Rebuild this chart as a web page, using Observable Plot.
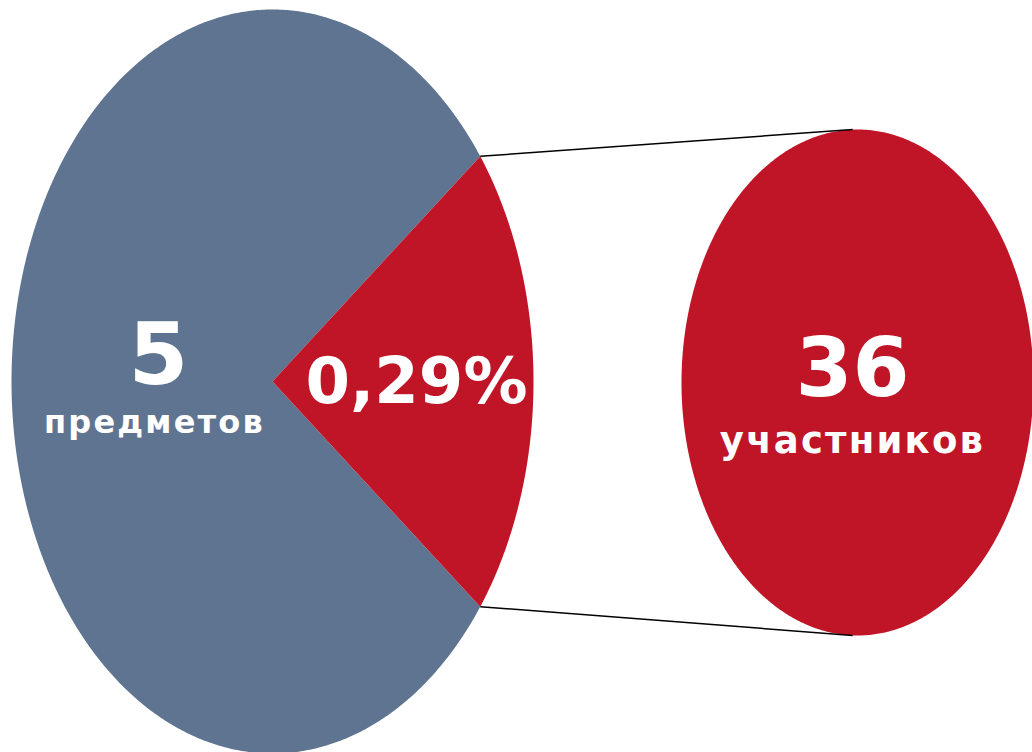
<!DOCTYPE html>
<html>
<head>
<meta charset="utf-8">
<script src="https://cdn.jsdelivr.net/npm/d3@7"></script>
<script src="https://cdn.jsdelivr.net/npm/@observablehq/plot@0.6"></script>
<style>
  html, body { margin: 0; padding: 0; background: #ffffff; }
  #chart svg { display: block; }
</style>
</head>
<body>
<div id="chart"></div>
<script>
// ---- data ----
const sliceNames = ["предметы", "выбранные"];
const sliceShares = [0.793, 0.207];          // angular share of the main pie as drawn
const mainValue = "5";
const mainUnit = "предметов";
const shareLabel = "0,29%";
const detailValue = "36";
const detailUnit = "участников";

// ---- layout (scale units) ----
const W = 1032, H = 752;
const mainPie = {cx: 272, cy: 381, rx: 261, ry: 372};
const detailPie = {cx: 857, cy: 382, rx: 176, ry: 253};
const BLUE = "#5f7491", RED = "#c01526";

const toRad = d => d * Math.PI / 180;
function ellPoint(e, deg) {
  return {x: e.cx + e.rx * Math.cos(toRad(deg)), y: e.cy - e.ry * Math.sin(toRad(deg))};
}
function sector(e, a0, a1, withCenter) {
  const pts = [];
  if (withCenter) pts.push({x: e.cx, y: e.cy});
  const n = Math.max(2, Math.ceil(Math.abs(a1 - a0) * 2));
  for (let i = 0; i <= n; i++) pts.push(ellPoint(e, a0 + (a1 - a0) * i / n));
  if (withCenter) pts.push({x: e.cx, y: e.cy});
  return pts;
}

const half = sliceShares[1] * 360 / 2;       // red wedge centered on the right
const bluePts = sector(mainPie, half, 360 - half, true);
const redPts = sector(mainPie, -half, half, true);
const detailPts = sector(detailPie, 0, 360, false);

const wedgeTop = ellPoint(mainPie, half);
const wedgeBot = ellPoint(mainPie, -half);
const detTop = ellPoint(detailPie, 91.6);
const detBot = ellPoint(detailPie, 268.4);
const connectors = [
  {x1: wedgeTop.x, y1: wedgeTop.y, x2: detTop.x, y2: detTop.y},
  {x1: wedgeBot.x, y1: wedgeBot.y, x2: detBot.x, y2: detBot.y}
];

const font = "DejaVu Sans";
const labels = [
  {x: 158, y: 383, text: mainValue, size: 86, spacing: 0},
  {x: 154, y: 432, text: mainUnit, size: 32, spacing: 2.2},
  {x: 416, y: 402, text: shareLabel, size: 64, spacing: 0},
  {x: 852, y: 395, text: detailValue, size: 82, spacing: 0},
  {x: 852, y: 452, text: detailUnit, size: 37, spacing: 2.2}
];

const chart = Plot.plot({
  width: W,
  height: H,
  margin: 0,
  x: {domain: [0, W], range: [0, W], axis: null},
  y: {domain: [0, H], range: [0, H], axis: null},
  style: {background: "#ffffff", overflow: "visible"},
  marks: [
    Plot.line(bluePts, {x: "x", y: "y", fill: BLUE, stroke: "none"}),
    Plot.line(redPts, {x: "x", y: "y", fill: RED, stroke: "none"}),
    Plot.line(detailPts, {x: "x", y: "y", fill: RED, stroke: "none"}),
    Plot.link(connectors, {x1: "x1", y1: "y1", x2: "x2", y2: "y2", stroke: "#000000", strokeWidth: 1.5}),
    ...labels.map(d => Plot.text([d], {
      x: "x", y: "y", text: "text",
      fontSize: d.size, fontWeight: "bold", fontFamily: font,
      fill: "#ffffff", textAnchor: "middle", lineAnchor: "bottom"
    }))
  ]
});
// letter spacing for the unit words
d3.select(chart).selectAll("text").each(function() {
  const t = this.textContent;
  const lab = labels.find(l => l.text === t);
  if (lab && lab.spacing) d3.select(this).attr("letter-spacing", lab.spacing);
});
document.getElementById("chart").appendChild(chart);
</script>
</body>
</html>
